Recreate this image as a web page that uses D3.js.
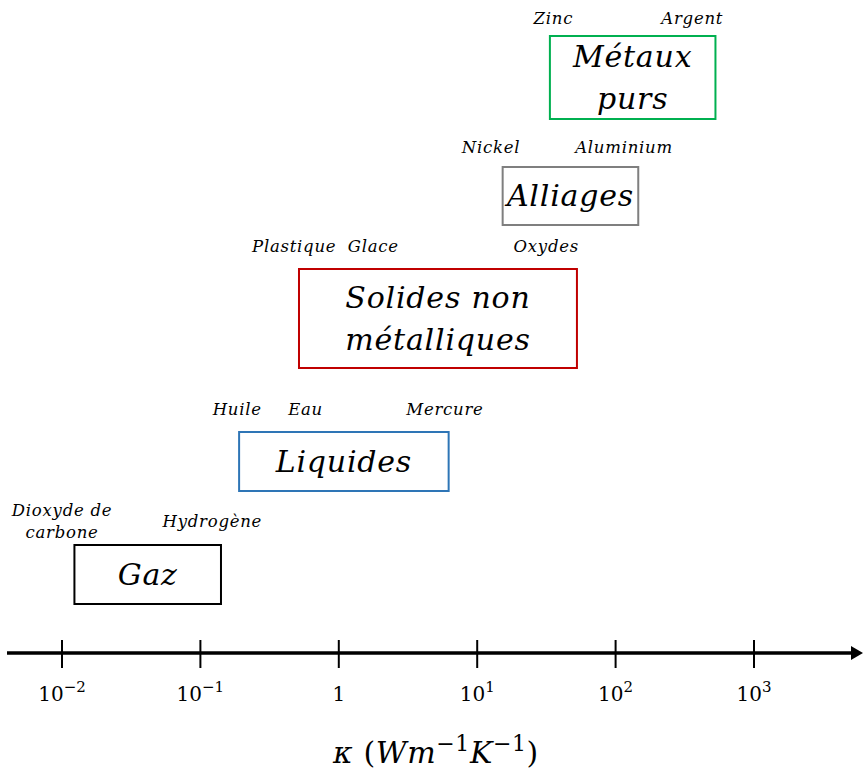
<!DOCTYPE html>
<html><head><meta charset="utf-8">
<script src="https://cdn.jsdelivr.net/npm/d3@7"></script>
<style>body{margin:0;background:#fff}</style>
</head><body>
<script>
// ---- data ----
const categories = ["Gaz", "Liquides", "Solides non métalliques", "Alliages", "Métaux purs"];
const categoryLines = [["Gaz"], ["Liquides"], ["Solides non", "métalliques"], ["Alliages"], ["Métaux", "purs"]];
const rangeMin = [0.0124, 0.192, 0.52, 15.4, 33.8];   // W/m/K
const rangeMax = [0.142, 6.27, 53, 147, 531];
const materials = ["Dioxyde de\ncarbone", "Hydrogène", "Huile", "Eau", "Mercure", "Plastique", "Glace", "Oxydes", "Nickel", "Aluminium", "Zinc", "Argent"];
const materialCategory = ["Gaz", "Gaz", "Liquides", "Liquides", "Liquides", "Solides non métalliques", "Solides non métalliques", "Solides non métalliques", "Alliages", "Alliages", "Métaux purs", "Métaux purs"];
const materialKappa = [0.0101, 0.123, 0.186, 0.58, 5.9, 0.48, 1.79, 31.8, 12.7, 116, 35.8, 361];
const tickValues = [0.01, 0.1, 1, 10, 100, 1000];
const tickExponents = [-2, -1, 0, 1, 2, 3];

// ---- layout / style ----
const W = 863, H = 773;
const colors = {"Gaz":"#000000","Liquides":"#2E75B6","Solides non métalliques":"#C00000","Alliages":"#7F7F7F","Métaux purs":"#00B050"};
const rowLayout = {
  "Gaz": {top:545, bottom:604, label:527},
  "Liquides": {top:432, bottom:491, label:415},
  "Solides non métalliques": {top:269, bottom:368, label:252},
  "Alliages": {top:167, bottom:225, label:153},
  "Métaux purs": {top:36, bottom:119, label:24}
};
const serif = "'DejaVu Serif', serif";
const axisY = 653;

const x = d3.scaleLog().domain([0.01, 1000]).range([61.5, 753.5]);

const svg = d3.select("body").append("svg").attr("width", W).attr("height", H)
  .style("font-family", serif);

// boxes
const boxes = svg.selectAll("g.box").data(categories).join("g").attr("class", "box");
boxes.append("rect")
  .attr("x", (d,i) => x(rangeMin[i]))
  .attr("width", (d,i) => x(rangeMax[i]) - x(rangeMin[i]))
  .attr("y", d => rowLayout[d].top)
  .attr("height", d => rowLayout[d].bottom - rowLayout[d].top)
  .attr("fill", "none").attr("stroke", d => colors[d]).attr("stroke-width", 2);
boxes.each(function(d, i) {
  const lines = categoryLines[i];
  const cx = (x(rangeMin[i]) + x(rangeMax[i])) / 2;
  const cy = (rowLayout[d].top + rowLayout[d].bottom) / 2;
  const lh = 42;
  const t = d3.select(this).append("text")
    .attr("text-anchor", "middle").attr("font-style", "italic")
    .attr("font-size", 30).attr("letter-spacing", 0.8).attr("fill", "#000");
  lines.forEach((ln, k) => {
    t.append("tspan").attr("x", cx)
      .attr("y", cy + 10 + (k - (lines.length - 1) / 2) * lh).text(ln);
  });
});

// material labels
materials.forEach((m, i) => {
  const lines = m.split("\n");
  const base = rowLayout[materialCategory[i]].label;
  const t = svg.append("text").attr("text-anchor", "middle").attr("font-style", "italic")
    .attr("font-size", 16.5).attr("letter-spacing", 0.75).attr("fill", "#000");
  lines.forEach((ln, k) => {
    t.append("tspan").attr("x", x(materialKappa[i]))
      .attr("y", base + (k - (lines.length - 1) / 2) * 22).text(ln);
  });
});

// axis
const axis = d3.axisBottom(x).tickValues(tickValues).tickSize(0).tickFormat("");
const ag = svg.append("g").attr("transform", `translate(0,${axisY})`).call(axis);
ag.select(".domain").remove();
ag.append("line").attr("x1", 7).attr("x2", 853).attr("y1", 0).attr("y2", 0)
  .attr("stroke", "#000").attr("stroke-width", 3.5);
ag.append("path").attr("d", "M851,-7 L863,0 L851,7 Z").attr("fill", "#000");
ag.selectAll(".tick line").attr("y1", -13).attr("y2", 15).attr("stroke", "#000").attr("stroke-width", 2);
ag.selectAll(".tick text").remove();
ag.selectAll(".tick").each(function(d, i) {
  const e = tickExponents[i];
  const t = d3.select(this).append("text").attr("y", 48).attr("text-anchor", "middle")
    .attr("fill", "#000").attr("font-family", serif).attr("font-size", 20);
  if (e === 0) { t.text("1"); }
  else {
    t.append("tspan").text("10");
    t.append("tspan").attr("dy", -9).attr("font-size", 15).text(e < 0 ? "\u2212" + (-e) : String(e));
  }
});

// axis title
const title = svg.append("text").attr("x", 436).attr("y", 763).attr("text-anchor", "middle")
  .attr("font-size", 30).attr("letter-spacing", 0.6).attr("fill", "#000");
title.append("tspan").attr("font-style", "italic").text("κ");
title.append("tspan").text(" (");
title.append("tspan").attr("font-style", "italic").text("Wm");
title.append("tspan").attr("dy", -12).attr("font-size", 22).text("\u22121");
title.append("tspan").attr("dy", 12).attr("font-style", "italic").text("K");
title.append("tspan").attr("dy", -12).attr("font-size", 22).text("\u22121");
title.append("tspan").attr("dy", 12).text(")");
</script>
</body></html>
